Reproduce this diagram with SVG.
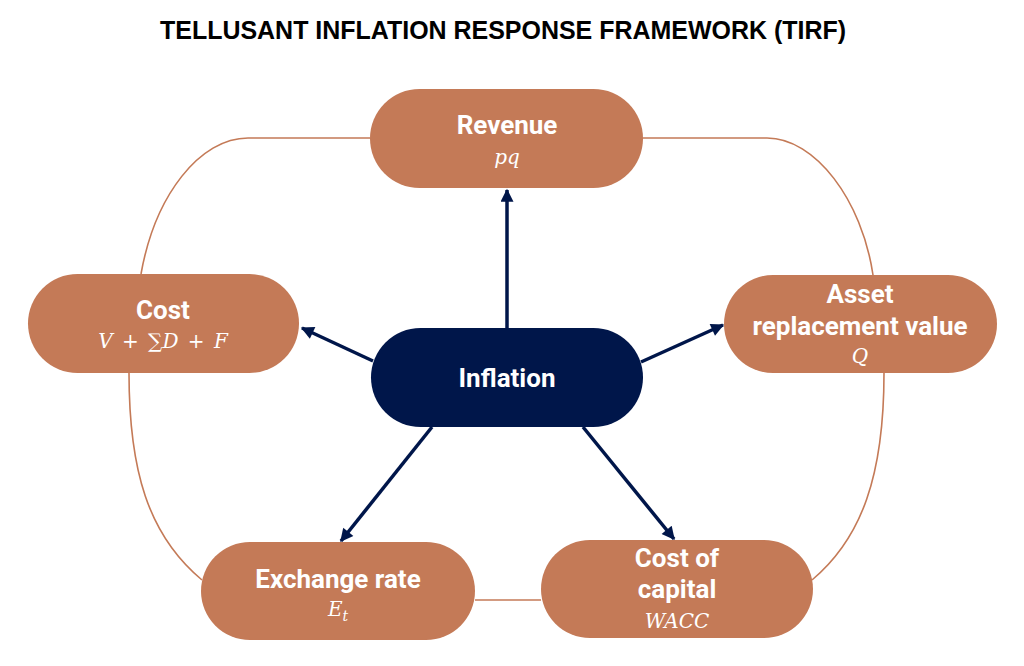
<svg xmlns="http://www.w3.org/2000/svg" width="1024" height="666" viewBox="0 0 1024 666">
<style>
.node{fill:#C47A57;}
.core{fill:#00164A;}
.lbl{font-family:Roboto,"Liberation Sans",sans-serif;font-weight:bold;font-size:26px;fill:#fff;text-anchor:middle;}
.math{font-family:"DejaVu Serif","Liberation Serif",serif;font-style:italic;font-size:20px;fill:#fff;text-anchor:middle;}
.up{font-style:normal;}
.ring{fill:none;stroke:#C47A57;stroke-width:1.6;}
.arr{stroke:#00164A;stroke-width:3.5;fill:none;marker-end:url(#ah);}
.title{font-family:"Liberation Sans",Arial,sans-serif;font-weight:bold;font-size:25px;fill:#000;text-anchor:middle;}
</style>
<defs>
<marker id="ah" viewBox="0 0 10 10" refX="9" refY="5" markerWidth="15" markerHeight="13" markerUnits="userSpaceOnUse" orient="auto">
<path d="M0,0 L10,5 L0,10 z" fill="#00164A"/>
</marker>
</defs>
<rect width="1024" height="666" fill="#fff"/>
<text class="title" x="503" y="39" textLength="686" lengthAdjust="spacingAndGlyphs">TELLUSANT INFLATION RESPONSE FRAMEWORK (TIRF)</text>
<g id="ring">
<path class="ring" d="M370,138 L248,138 C200,138 155,195 141,274"/>
<path class="ring" d="M643,138 L767,138 C815,138 862,200 873,275"/>
<path class="ring" d="M129,373 C129,470 148,535 202,580"/>
<path class="ring" d="M884,373 C884,475 862,538 812,580"/>
<path class="ring" d="M475,600 L541,600"/>
</g>
<g id="connectors">
<line class="arr" x1="507" y1="328" x2="507" y2="190"/>
<line class="arr" x1="373" y1="361" x2="302" y2="328"/>
<line class="arr" x1="641" y1="362" x2="723" y2="325"/>
<line class="arr" x1="432" y1="427" x2="341" y2="541"/>
<line class="arr" x1="583" y1="427" x2="674" y2="539"/>
</g>
<g id="revenue">
<rect class="node" x="370" y="89" width="273" height="99" rx="49.5"/>
<text class="lbl" x="507" y="134">Revenue</text>
<text class="math" x="507" y="164">pq</text>
</g>
<g id="cost">
<rect class="node" x="28" y="274" width="271" height="99" rx="49.5"/>
<text class="lbl" x="163" y="319">Cost</text>
<text class="math" x="163" y="348" word-spacing="3">V <tspan class="up">+ ∑</tspan>D <tspan class="up">+</tspan> F</text>
</g>
<g id="asset">
<rect class="node" x="724" y="275" width="273" height="98" rx="49"/>
<text class="lbl" x="860" y="303">Asset</text>
<text class="lbl" x="860" y="335">replacement value</text>
<text class="math" x="860" y="363">Q</text>
</g>
<g id="inflation">
<rect class="core" x="371" y="328" width="272" height="99" rx="49.5"/>
<text class="lbl" x="507" y="387">Inflation</text>
</g>
<g id="exchange">
<rect class="node" x="201" y="542" width="274" height="98" rx="49"/>
<text class="lbl" x="338" y="588">Exchange rate</text>
<text class="math" x="338" y="616">E<tspan font-size="14" dy="5">t</tspan></text>
</g>
<g id="capital">
<rect class="node" x="541" y="540" width="272" height="98" rx="49"/>
<text class="lbl" x="677" y="567">Cost of</text>
<text class="lbl" x="677" y="598">capital</text>
<text class="math" x="677" y="628">WACC</text>
</g>
</svg>
